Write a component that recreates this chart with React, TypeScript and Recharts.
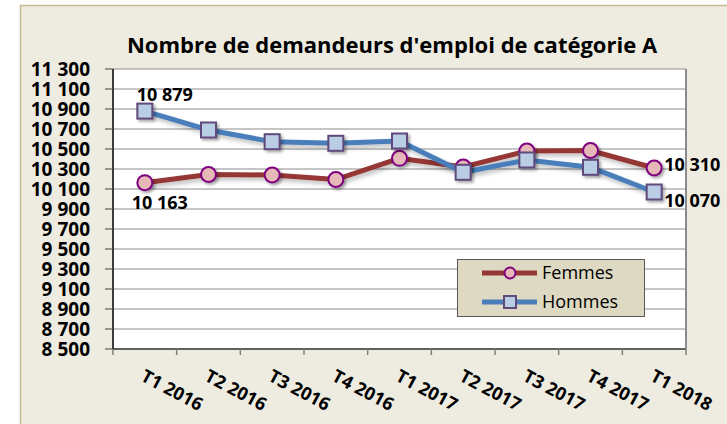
import { CartesianGrid, LabelList, Line, LineChart, XAxis, YAxis } from 'recharts';

const categories = ['T1 2016', 'T2 2016', 'T3 2016', 'T4 2016', 'T1 2017', 'T2 2017', 'T3 2017', 'T4 2017', 'T1 2018'];
const femmes = [10163, 10245, 10240, 10195, 10407, 10320, 10480, 10485, 10310];
const hommes = [10879, 10690, 10573, 10557, 10580, 10267, 10390, 10317, 10070];
const yTicks = [8500, 8700, 8900, 9100, 9300, 9500, 9700, 9900, 10100, 10300, 10500, 10700, 10900, 11100, 11300];
const seriesNames = ['Femmes', 'Hommes'];

const data = categories.map((period, i) => ({ period, femmes: femmes[i], hommes: hommes[i] }));

const W = 727;
const H = 424;
const PLOT_L = 113;
const PLOT_R = 686;
const PLOT_T = 69;
const PLOT_B = 349;
const BAND = (PLOT_R - PLOT_L) / categories.length;
const LAST = categories.length - 1;
const FONT = '"Open Sans", sans-serif';

const fmt = (v: number) => String(v).replace(/\B(?=(\d{3})+(?!\d))/g, ' ');

const labelStyle = { fontFamily: FONT, fontSize: 18, fontWeight: 700, fill: '#000' };

function CircleDot(p: any) {
  if (p.cx == null || p.cy == null) return null;
  return (
    <circle key={`f${p.index}`} cx={p.cx} cy={p.cy} r={7.5} fill="#E6B9B8" stroke="#7F007F" strokeWidth={2} filter="url(#shadow)" />
  );
}

function SquareDot(p: any) {
  if (p.cx == null || p.cy == null) return null;
  return (
    <rect key={`h${p.index}`} x={p.cx - 7.5} y={p.cy - 7.5} width={15} height={15} fill="#B9CDE5" stroke="#604A7B" strokeWidth={2} filter="url(#shadow)" />
  );
}

function femmesLabel(p: any) {
  const { x, y, index, value } = p;
  if (index === 0)
    return <text key="fl0" x={x + 15} y={y + 26} textAnchor="middle" {...labelStyle}>{fmt(value)}</text>;
  if (index === LAST)
    return <text key="fl1" x={x + 10} y={y + 3} textAnchor="start" {...labelStyle}>{fmt(value)}</text>;
  return null;
}

function hommesLabel(p: any) {
  const { x, y, index, value } = p;
  if (index === 0)
    return <text key="hl0" x={x + 20} y={y - 10} textAnchor="middle" {...labelStyle}>{fmt(value)}</text>;
  if (index === LAST)
    return <text key="hl1" x={x + 10} y={y + 15} textAnchor="start" {...labelStyle}>{fmt(value)}</text>;
  return null;
}

function CategoryTick(p: any) {
  const { x, payload, index } = p;
  const tx = x - 5;
  const ty = PLOT_B + 31;
  return (
    <g>
      <line x1={x - BAND / 2} y1={PLOT_B} x2={x - BAND / 2} y2={PLOT_B + 6} stroke="#7f7f7f" strokeWidth={1.5} />
      {index === LAST && (
        <line x1={x + BAND / 2} y1={PLOT_B} x2={x + BAND / 2} y2={PLOT_B + 6} stroke="#7f7f7f" strokeWidth={1.5} />
      )}
      <text x={tx} y={ty} transform={`rotate(28, ${tx}, ${ty})`} textAnchor="start" {...labelStyle}>
        {payload.value}
      </text>
    </g>
  );
}

function LegendBox() {
  const rows = [
    { name: seriesNames[0], color: '#953735', marker: 'circle' },
    { name: seriesNames[1], color: '#4A7EBB', marker: 'square' },
  ];
  return (
    <svg width={W} height={H} style={{ position: 'absolute', left: 0, top: 0, pointerEvents: 'none' }}>
      <rect x={457.5} y={259.5} width={187} height={57} fill="#DDD9C3" stroke="#595959" strokeWidth={1} />
      {rows.map((r, i) => {
        const cy = 273 + i * 29;
        return (
          <g key={r.name}>
            <line x1={482} y1={cy} x2={537} y2={cy} stroke={r.color} strokeWidth={5} />
            {r.marker === 'circle' ? (
              <circle cx={510} cy={cy} r={5.5} fill="#E6B9B8" stroke="#7F007F" strokeWidth={2} />
            ) : (
              <rect x={504} y={cy - 6} width={12} height={12} fill="#B9CDE5" stroke="#604A7B" strokeWidth={2} />
            )}
            <text x={542} y={cy + 6} fontFamily={FONT} fontSize={18} fill="#000">{r.name}</text>
          </g>
        );
      })}
    </svg>
  );
}

export default function App() {
  return (
    <div style={{ position: 'absolute', left: 0, top: 0, width: W, height: H, background: '#fff', overflow: 'hidden' }}>
      <svg width={W} height={H} style={{ position: 'absolute', left: 0, top: 0 }}>
        <defs>
          <filter id="shadow" x="-50%" y="-50%" width="200%" height="200%">
            <feDropShadow dx={2} dy={2} stdDeviation={1.5} floodColor="#000" floodOpacity={0.35} />
          </filter>
          <filter id="lshadow" x="-10%" y="-50%" width="120%" height="200%">
            <feDropShadow dx={2} dy={3} stdDeviation={2} floodColor="#000" floodOpacity={0.25} />
          </filter>
        </defs>
        <rect x={20.5} y={5.5} width={740} height={440} fill="#EEECE1" stroke="#C4BB91" strokeWidth={1.5} />
        <text x={392} y={53} textAnchor="middle" fontFamily={FONT} fontSize={22} fontWeight={700} fill="#000">
          Nombre de demandeurs d'emploi de catégorie A
        </text>
      </svg>
      <div style={{ position: 'absolute', left: 0, top: 0 }}>
        <LineChart width={W} height={H} data={data} margin={{ top: PLOT_T, right: 0, bottom: 0, left: 0 }}>
          <CartesianGrid horizontal vertical={false} fill="#fff" stroke="#8c8c8c" strokeWidth={1} />
          <XAxis
            dataKey="period"
            scale="point"
            padding={{ left: BAND / 2, right: BAND / 2 }}
            height={H - PLOT_B}
            interval={0}
            tickLine={false}
            axisLine={{ stroke: '#404040', strokeWidth: 1.5 }}
            tick={CategoryTick}
          />
          <YAxis
            width={PLOT_L}
            domain={[8500, 11300]}
            ticks={yTicks}
            interval={0}
            tickFormatter={fmt}
            tickSize={8}
            tickMargin={15}
            tickLine={{ stroke: '#404040' }}
            axisLine={{ stroke: '#000', strokeWidth: 1.5 }}
            tick={{ fontFamily: FONT, fontSize: 19, fontWeight: 700, fill: '#000' }}
          />
          <YAxis
            yAxisId="r"
            orientation="right"
            width={W - PLOT_R}
            domain={[0, 1]}
            tick={false}
            tickLine={false}
            axisLine={{ stroke: '#8c8c8c', strokeWidth: 2 }}
          />
          <Line
            dataKey="femmes"
            name={seriesNames[0]}
            stroke="#953735"
            strokeWidth={5}
            filter="url(#lshadow)"
            dot={CircleDot}
            activeDot={false}
            isAnimationActive={false}
          >
            <LabelList dataKey="femmes" content={femmesLabel} />
          </Line>
          <Line
            dataKey="hommes"
            name={seriesNames[1]}
            stroke="#4A7EBB"
            strokeWidth={5}
            filter="url(#lshadow)"
            dot={SquareDot}
            activeDot={false}
            isAnimationActive={false}
          >
            <LabelList dataKey="hommes" content={hommesLabel} />
          </Line>
        </LineChart>
      </div>
      <LegendBox />
    </div>
  );
}
